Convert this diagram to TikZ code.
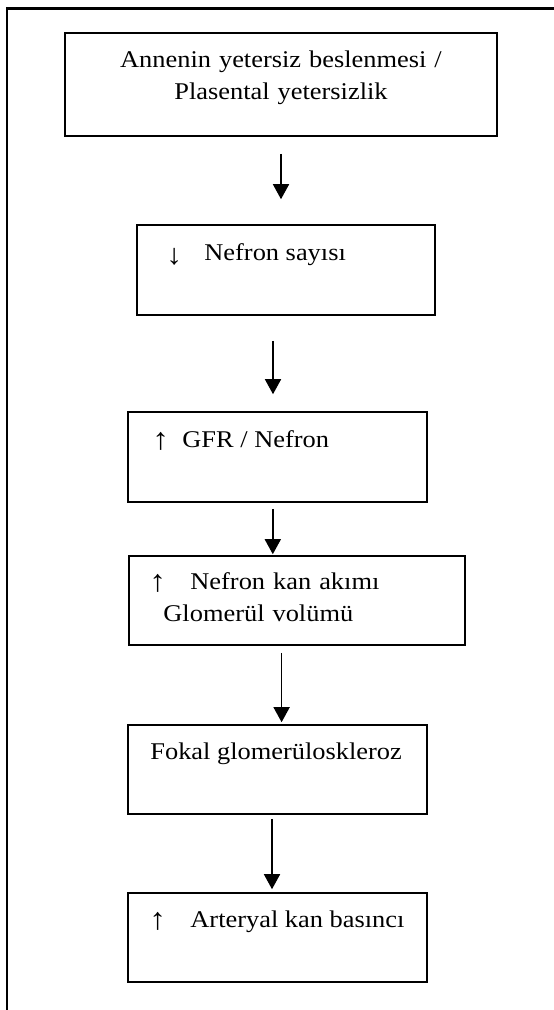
\documentclass[tikz,border=0pt]{standalone}
\usepackage{fontspec}
\setmainfont{Liberation Serif}[FakeStretch=1.1]
\usetikzlibrary{arrows.meta}
\tikzset{
    kutu/.style={draw=black, line width=1.6pt, inner sep=0},
    yazi/.style={inner sep=0, font=\fontsize{24}{32}\selectfont},
    ok/.style={draw=black, line width=1.6pt, -{Triangle[width=16pt,length=15pt]}}
}
\newcommand{\yukari}[1]{\makebox[#1][l]{\raisebox{-3pt}{\resizebox*{!}{18pt}{\raisebox{\depth}{↑}}}}}
\newcommand{\asagi}[1]{\makebox[#1][l]{\raisebox{-5pt}{\resizebox*{!}{17pt}{\raisebox{\depth}{↓}}}}}

\begin{document}
\begin{tikzpicture}[x=1pt,y=-1pt]
    \useasboundingbox (0,0) rectangle (554,1010);
    % cerceve
    \draw[line width=2.2pt] (7,1010) -- (7,8.5) -- (554,8.5);
    % kutular
    \node[kutu, minimum width=432pt, minimum height=103pt] (anne) at (281,84.5) {};
    \node[kutu, minimum width=298pt, minimum height=90pt] (sayi) at (286,270) {};
    \node[kutu, minimum width=299pt, minimum height=90pt] (gfr) at (277.5,457) {};
    \node[kutu, minimum width=336pt, minimum height=89pt] (akim) at (297,600.5) {};
    \node[kutu, minimum width=299pt, minimum height=89pt] (fokal) at (277.5,769.5) {};
    \node[kutu, minimum width=299pt, minimum height=89pt] (basinc) at (277.5,937.5) {};
    % yazilar
    \node[yazi, text width=432pt, align=center, anchor=base] (anneY) at ([shift={(0,35)}]anne.north) {Annenin yetersiz beslenmesi /\\ Plasental yetersizlik};
    \node[yazi, anchor=base west] (sayiY) at ([shift={(30,36)}]sayi.north west) {\asagi{38pt}Nefron sayısı};
    \node[yazi, anchor=base west] (gfrY) at ([shift={(25,36)}]gfr.north west) {\yukari{30pt}GFR / Nefron};
    \node[yazi, text width=300pt, align=left, anchor=base west] (akimY) at ([shift={(21,34)}]akim.north west) {\yukari{41pt}Nefron kan akımı\\\hspace*{14pt}Glomerül volümü};
    \node[yazi, anchor=base west] (fokalY) at ([shift={(23,35)}]fokal.north west) {Fokal glomerüloskleroz};
    \node[yazi, anchor=base west] (basincY) at ([shift={(22,35)}]basinc.north west) {\yukari{41pt}Arteryal kan basıncı};
    % oklar
    \draw[ok, shorten <=17pt, shorten >=25pt] (anne.south) -- (anne.south |- sayi.north);
    \draw[ok, shorten <=25pt, shorten >=17pt] ([xshift=-13pt]sayi.south) -- ([xshift=-13pt]sayi.south |- gfr.north);
    \draw[ok, shorten <=6pt, shorten >=1pt] ([xshift=-4.7pt]gfr.south) -- ([xshift=-4.7pt]gfr.south |- akim.north);
    \draw[ok, shorten <=7pt, shorten >=2pt] ([xshift=-15.4pt]akim.south) -- ([xshift=-15.4pt]akim.south |- fokal.north);
    \draw[ok, shorten <=4pt, shorten >=3pt] ([xshift=-5.5pt]fokal.south) -- ([xshift=-5.5pt]fokal.south |- basinc.north);
\end{tikzpicture}
\end{document}
